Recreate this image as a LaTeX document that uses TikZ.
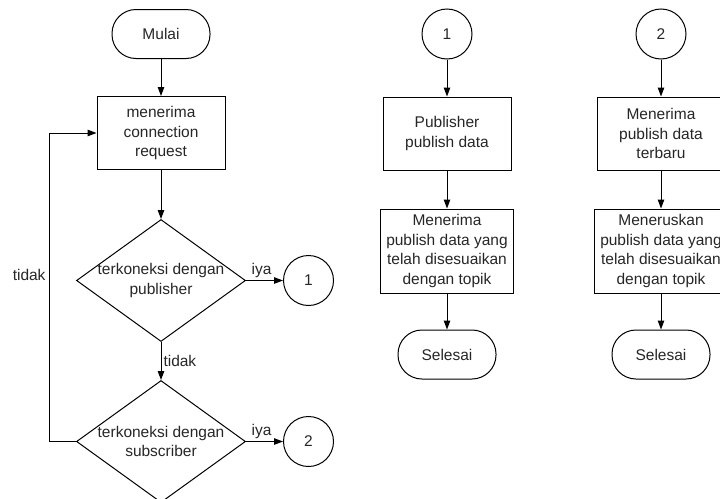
\documentclass[tikz,border=0pt]{standalone}
\usepackage{fontspec}
\setmainfont{Liberation Sans}
\usetikzlibrary{positioning,shapes.geometric,arrows.meta}

\begin{document}
\begin{tikzpicture}[x=1pt, y=1pt, >={Triangle[length=9pt,width=6.5pt]},
        node distance = 37pt and 37pt,
        every node/.style = {font=\fontsize{15.5}{19.5}\selectfont, text=black!85},
        terminal/.style = {draw, line width=1pt, rounded corners=24pt,
                minimum width=98pt, minimum height=49pt},
        process/.style = {draw, line width=1pt, align=center, inner sep=3pt,
                minimum width=128pt, minimum height=73pt},
        decision/.style = {draw, diamond, line width=1pt, inner sep=0pt,
                minimum width=169pt, minimum height=122pt},
        connector/.style = {draw, circle, line width=1pt, minimum size=50pt},
        flow/.style = {->, line width=1pt},
    ]
        \useasboundingbox (0,0) rectangle (720,-498);
        \clip (0,0) rectangle (720,-498);

        % kolom kiri
        \node[terminal] (mulai) at (161,-34) {Mulai};
        \node[process, below=of mulai] (terima) {menerima\\connection\\request};
        \node[decision, below=49pt of terima,
              label={[align=center]center:terkoneksi dengan\\publisher}] (cekpub) {};
        \node[decision, below=38pt of cekpub,
              label={[align=center]center:terkoneksi dengan\\subscriber}] (ceksub) {};
        \node[connector, right=of cekpub] (satu) {1};
        \node[connector, right=of ceksub] (dua) {2};

        \draw[flow] (mulai) -- (terima);
        \draw[flow] (terima) -- (cekpub);
        \draw[flow] (cekpub) -- node[right, inner sep=2pt] {tidak} (ceksub);
        \draw[flow] (cekpub) -- node[above, xshift=-3pt, inner sep=2pt] {iya} (satu);
        \draw[flow] (ceksub) -- node[above, xshift=-3pt, inner sep=2pt] {iya} (dua);
        \draw[flow] (ceksub.west) -- ++(-27,0) |- node[pos=0.27, left, inner sep=3pt] {tidak} (terima.west);

        % kolom tengah
        \node[connector] (satub) at (447,-34) {1};
        \node[process, below=of satub] (pubdata) {Publisher\\publish data};
        \node[process, below=38pt of pubdata, minimum width=133pt, minimum height=84pt]
              (terimadata) {Menerima\\publish data yang\\telah disesuaikan\\dengan topik};
        \node[terminal, below=36pt of terimadata] (selesai1) {Selesai};

        \draw[flow] (satub) -- (pubdata);
        \draw[flow] (pubdata) -- (terimadata);
        \draw[flow] (terimadata) -- (selesai1);

        % kolom kanan
        \node[connector] (duab) at (661,-34) {2};
        \node[process, below=of duab] (terbaru) {Menerima\\publish data\\terbaru};
        \node[process, below=38pt of terbaru, minimum width=134pt, minimum height=84pt]
              (teruskan) {Meneruskan\\publish data yang\\telah disesuaikan\\dengan topik};
        \node[terminal, below=36pt of teruskan] (selesai2) {Selesai};

        \draw[flow] (duab) -- (terbaru);
        \draw[flow] (terbaru) -- (teruskan);
        \draw[flow] (teruskan) -- (selesai2);
    \end{tikzpicture}
\end{document}
